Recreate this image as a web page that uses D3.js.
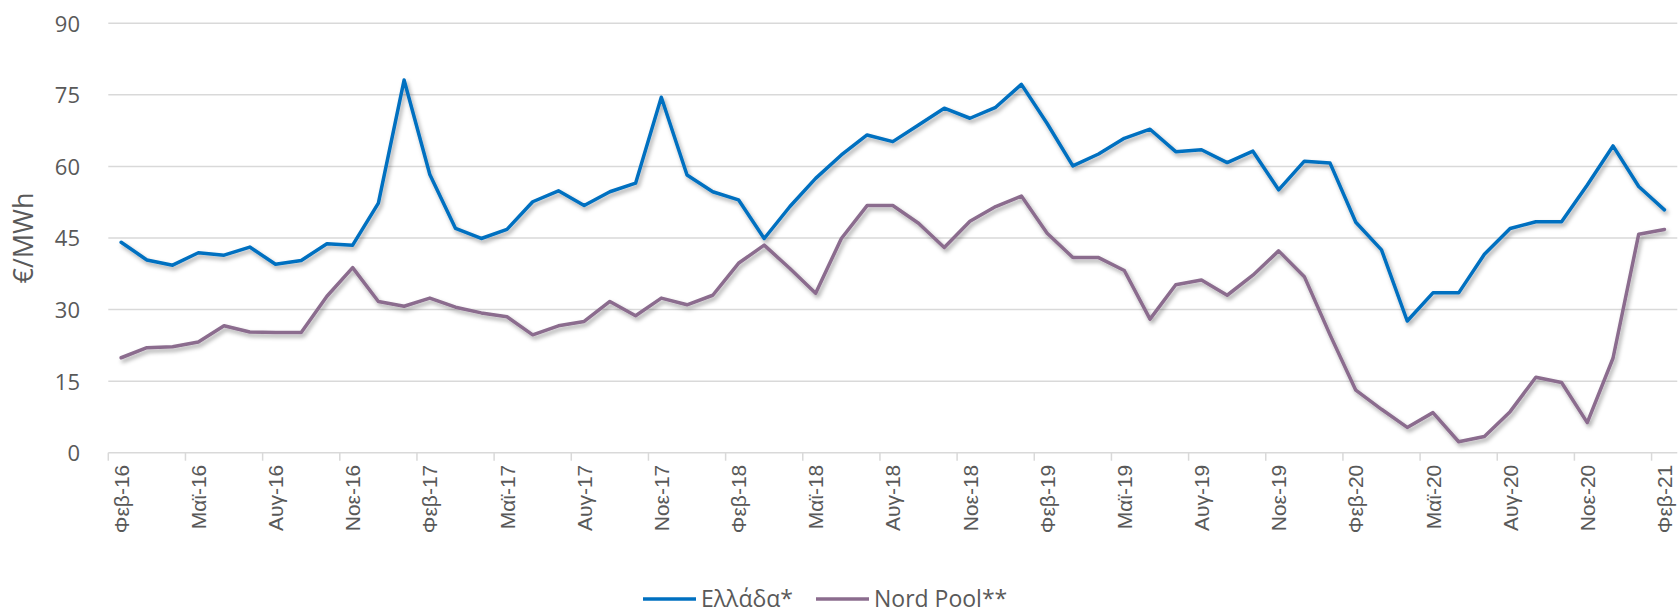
<!DOCTYPE html>
<html>
<head>
<meta charset="utf-8">
<script src="https://cdn.jsdelivr.net/npm/d3@7"></script>
<style>
  body { margin: 0; background: #fff; }
  svg { display: block; }
  .axis path, .axis line { display: none; }
</style>
</head>
<body>
<svg id="chart"></svg>
<script>
// month labels (Feb 2016 .. Feb 2021)
var months = [
  "Φεβ-16","Μαρ-16","Απρ-16","Μαϊ-16","Ιουν-16","Ιουλ-16","Αυγ-16","Σεπ-16","Οκτ-16","Νοε-16","Δεκ-16",
  "Ιαν-17","Φεβ-17","Μαρ-17","Απρ-17","Μαϊ-17","Ιουν-17","Ιουλ-17","Αυγ-17","Σεπ-17","Οκτ-17","Νοε-17","Δεκ-17",
  "Ιαν-18","Φεβ-18","Μαρ-18","Απρ-18","Μαϊ-18","Ιουν-18","Ιουλ-18","Αυγ-18","Σεπ-18","Οκτ-18","Νοε-18","Δεκ-18",
  "Ιαν-19","Φεβ-19","Μαρ-19","Απρ-19","Μαϊ-19","Ιουν-19","Ιουλ-19","Αυγ-19","Σεπ-19","Οκτ-19","Νοε-19","Δεκ-19",
  "Ιαν-20","Φεβ-20","Μαρ-20","Απρ-20","Μαϊ-20","Ιουν-20","Ιουλ-20","Αυγ-20","Σεπ-20","Οκτ-20","Νοε-20","Δεκ-20",
  "Ιαν-21","Φεβ-21"
]

var greece = [
  44.1,40.4,39.3,41.9,41.4,43.1,39.5,40.3,43.8,43.5,52.3,
  78.1,58.3,47.0,44.9,46.8,52.6,54.9,51.8,54.7,56.5,74.5,
  58.2,54.7,53.0,44.9,51.6,57.5,62.4,66.6,65.2,68.7,72.2,
  70.1,72.4,77.2,69.0,60.1,62.6,65.9,67.8,63.1,63.5,60.8,
  63.2,55.1,61.1,60.7,48.3,42.5,27.6,33.5,33.5,41.6,47.0,
  48.4,48.4,56.1,64.3,55.8,50.9
]

var nordPool = [
  19.9,22.0,22.2,23.2,26.6,25.3,25.2,25.2,32.8,38.8,31.7,
  30.7,32.4,30.5,29.3,28.5,24.7,26.6,27.5,31.7,28.7,32.4,
  31.0,33.0,39.7,43.5,38.6,33.4,44.9,51.8,51.8,48.1,43.0,
  48.5,51.6,53.8,46.0,40.9,40.9,38.2,28.0,35.2,36.2,33.0,
  37.2,42.3,36.9,24.7,13.1,9.1,5.3,8.4,2.3,3.4,8.6,
  15.8,14.7,6.3,19.8,45.8,46.8
]

var yTicks = [0,15,30,45,60,75,90]
var seriesNames = ["Ελλάδα*","Nord Pool**"]
var seriesColors = ["#0070C0","#8B6C8E"]

var screen = {width:1680,height:613}
var plot = {left:108.3,right:1677.3,top:23.3,bottom:452.7}
var grey = "#595959"

var svg = d3.select("#chart")
    .attr("width",screen.width)
    .attr("height",screen.height)

// soft shadow like excel
var filt = svg.append("defs").append("filter")
    .attr("id","shadow")
    .attr("x","-5%").attr("y","-5%")
    .attr("width","110%").attr("height","120%")
filt.append("feDropShadow")
    .attr("dx",2).attr("dy",3)
    .attr("stdDeviation",2)
    .attr("flood-color","#000")
    .attr("flood-opacity",0.35)

var xScale = d3.scaleBand()
    .domain(months)
    .range([plot.left,plot.right])
    .padding(0)
var yScale = d3.scaleLinear()
    .domain([0,90])
    .range([plot.bottom,plot.top])

var bw = xScale.bandwidth()

//gridlines
svg.append("g")
    .selectAll("line")
    .data(yTicks)
    .enter()
    .append("line")
    .attr("x1",plot.left)
    .attr("x2",plot.right)
    .attr("y1",function(d){return yScale(d)})
    .attr("y2",function(d){return yScale(d)})
    .attr("stroke","#D9D9D9")
    .attr("stroke-width",1.5)

// tick marks on category boundaries, every 3 months
var shown = months.filter(function(m,i){return i%3==0})
svg.append("g")
    .selectAll("line")
    .data(shown)
    .enter()
    .append("line")
    .attr("x1",function(d){return xScale(d)})
    .attr("x2",function(d){return xScale(d)})
    .attr("y1",plot.bottom)
    .attr("y2",plot.bottom+8)
    .attr("stroke","#D9D9D9")
    .attr("stroke-width",1.5)

// y axis labels
var yAxis = d3.axisLeft(yScale).tickValues(yTicks).tickSize(0).tickPadding(0)
svg.append("g")
    .attr("class","axis")
    .attr("transform","translate(80,0)")
    .call(yAxis)
    .selectAll("text")
    .attr("dy","0.36em")
    .style("font-family","'Open Sans', sans-serif")
    .style("font-size","22px")
    .style("fill",grey)

// x axis labels, rotated
var xAxis = d3.axisBottom(xScale).tickValues(shown).tickSize(0).tickPadding(0)
svg.append("g")
    .attr("class","axis")
    .attr("transform","translate(0,"+plot.bottom+")")
    .call(xAxis)
    .selectAll("text")
    .attr("transform","rotate(-90)")
    .attr("text-anchor","end")
    .attr("x",-12)
    .attr("y",0)
    .attr("dy","0.36em")
    .style("font-family","'Liberation Sans', Arial, sans-serif")
    .style("font-size","21px")
    .style("fill",grey)

// y title
svg.append("text")
    .attr("transform","translate(33,238) rotate(-90)")
    .attr("text-anchor","middle")
    .style("font-family","'Open Sans', sans-serif")
    .style("font-size","27px")
    .style("fill",grey)
    .text("€/MWh")

var lineGenerator = d3.line()
    .x(function(d,i){return xScale(months[i])+bw/2})
    .y(function(d){return yScale(d)})

svg.append("g")
    .attr("filter","url(#shadow)")
    .selectAll("path")
    .data([greece,nordPool])
    .enter()
    .append("path")
    .attr("d",lineGenerator)
    .attr("fill","none")
    .attr("stroke",function(d,i){return seriesColors[i]})
    .attr("stroke-width",3.5)
    .attr("stroke-linejoin","round")
    .attr("stroke-linecap","round")

// legend
var legendX = [643,816]
var legend = svg.append("g")
    .selectAll("g")
    .data(seriesNames)
    .enter()
    .append("g")
    .attr("transform",function(d,i){return "translate("+legendX[i]+",599)"})
legend.append("line")
    .attr("x1",0).attr("x2",53)
    .attr("stroke",function(d,i){return seriesColors[i]})
    .attr("stroke-width",3.5)
legend.append("text")
    .attr("x",58)
    .attr("dy","0.36em")
    .style("font-family","'Open Sans', sans-serif")
    .style("font-size","23px")
    .style("fill",grey)
    .text(function(d){return d})
</script>
</body>
</html>
